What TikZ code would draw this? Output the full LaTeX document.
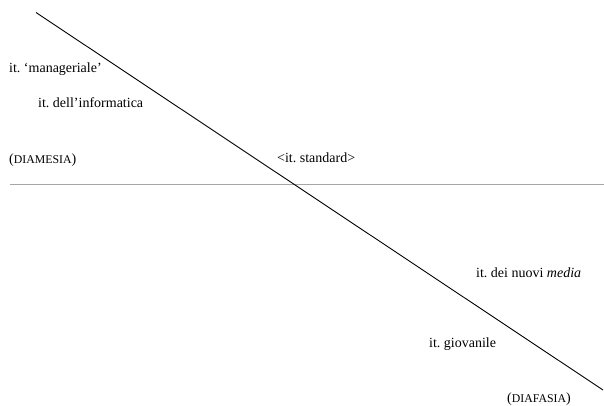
\documentclass[tikz,border=0pt]{standalone}
\usepackage{fontspec}
\setmainfont{Liberation Serif}
\usetikzlibrary{positioning}
\frenchspacing

\newcommand{\fakesc}[1]{{\fontsize{11.8}{13}\selectfont #1}}

\begin{document}
\begin{tikzpicture}[x=1pt, y=-1pt,
  lab/.style={anchor=base west, inner sep=0pt, font=\fontsize{14}{16}\selectfont},
  axis/.style={draw=gray!70, line width=0.9pt},
  diag/.style={draw=black, line width=0.9pt}
]
  \useasboundingbox (0,0) rectangle (604,405);
  % axes
  \coordinate (hl) at (10,184);
  \coordinate (hr) at (604,184);
  \coordinate (dt) at (36,12.5);
  \coordinate (db) at (603,390);
  \draw[axis] (hl) -- (hr);
  \draw[diag] (dt) -- (db);
  % labels
  \node[lab] (mgr) at (9,72) {it. `manageriale'};
  \node[lab] (inf) at (38,107) {it. dell'informatica};
  \node[lab] (dmes) at (9,163) {(\fakesc{DIAMESIA})};
  \node[lab] (std) at (277,162) {<it. standard>};
  \node[lab] (med) at (476,277) {it. dei nuovi \textit{media}};
  \node[lab] (gio) at (429,347) {it. giovanile};
  \node[lab] (dfas) at (507,402) {(\fakesc{DIAFASIA})};
\end{tikzpicture}
\end{document}
